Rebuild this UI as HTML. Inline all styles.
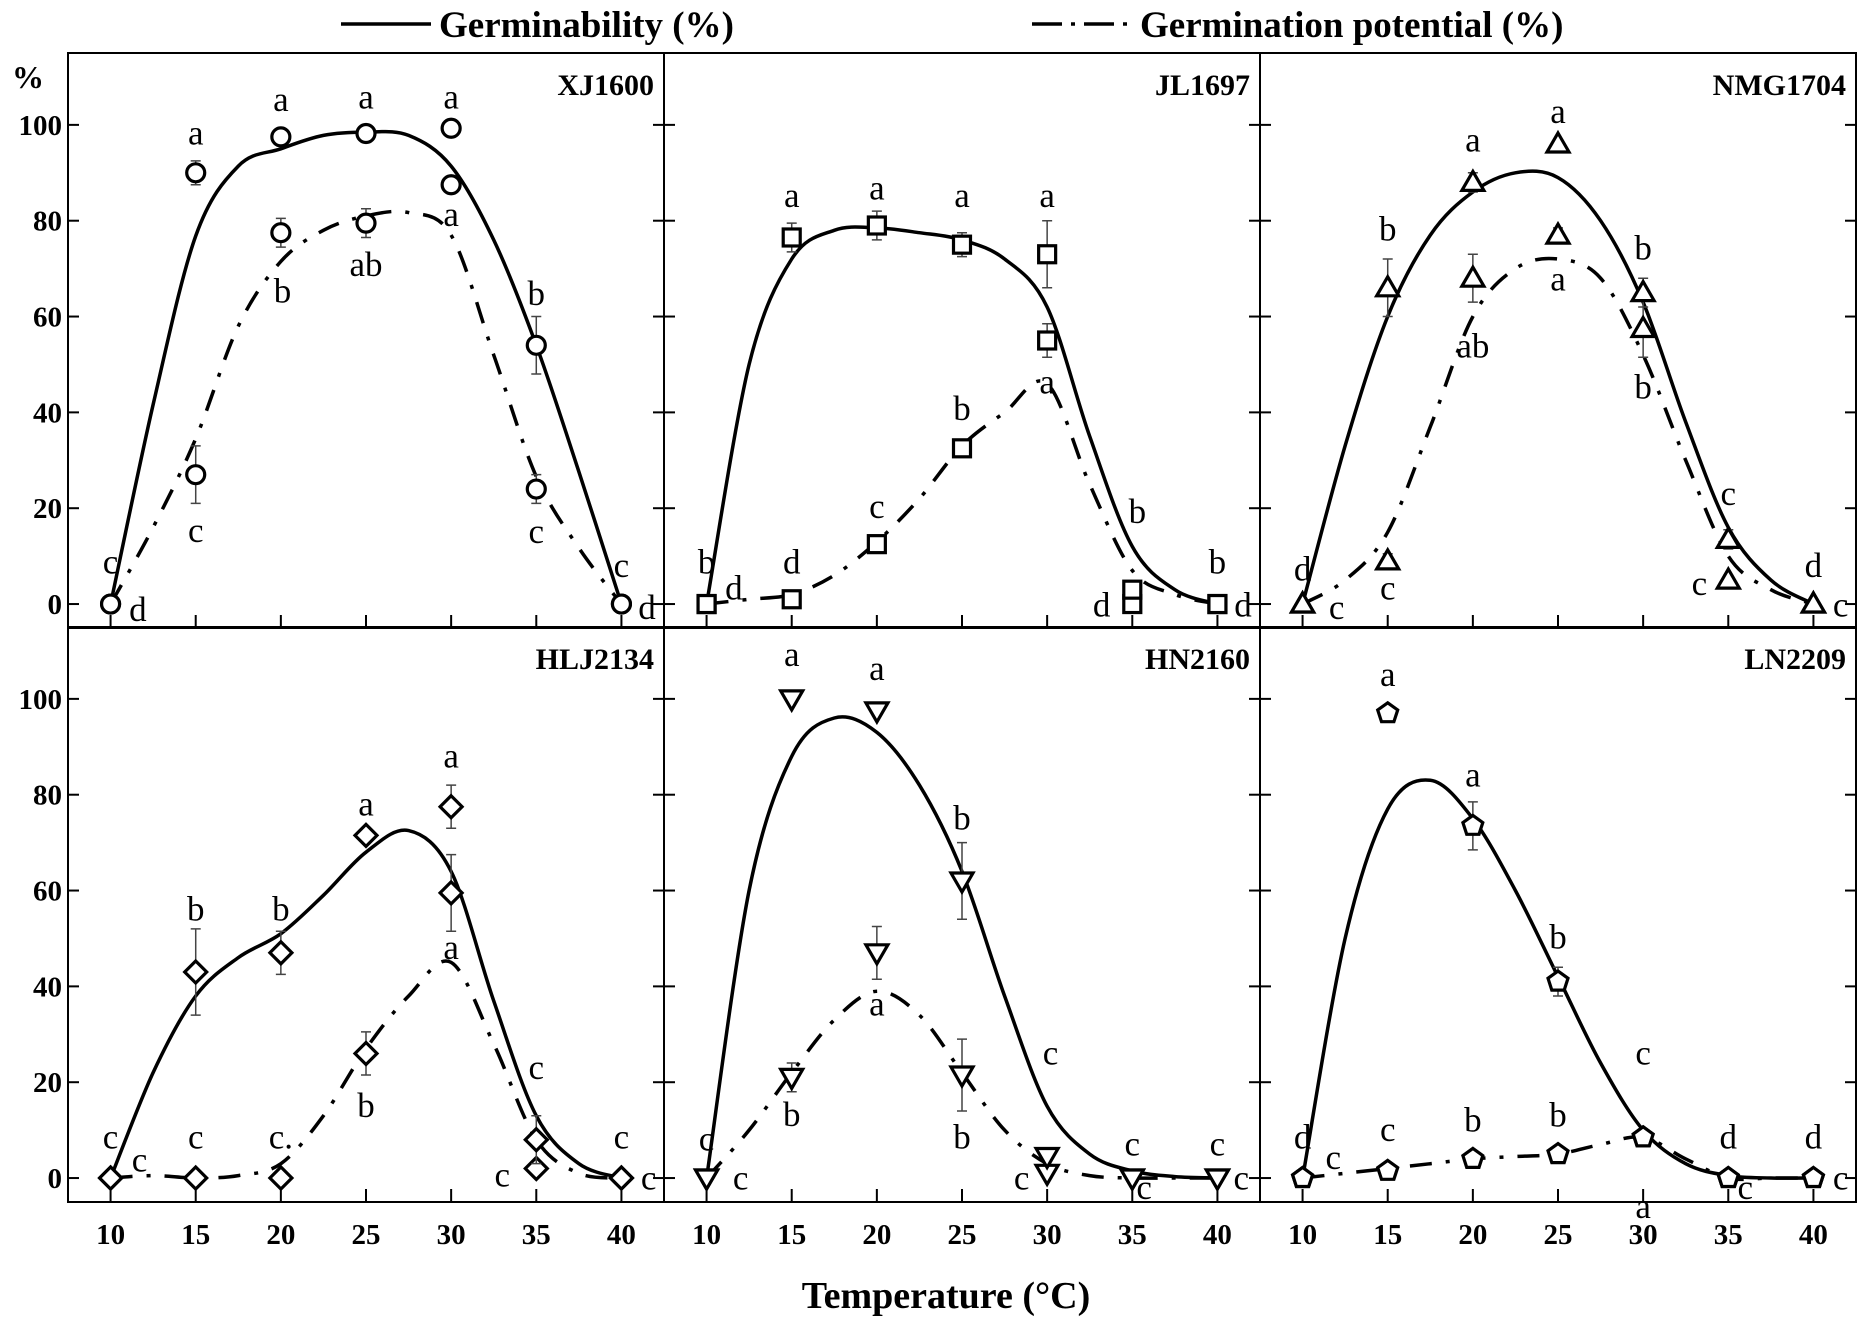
<!DOCTYPE html>
<html><head><meta charset="utf-8">
<style>
html,body{margin:0;padding:0;background:#fff;}
svg{display:block;}
text{font-family:"Liberation Serif","Times New Roman",serif;fill:#000;}
</style></head>
<body>
<svg id="chart" width="1867" height="1325" viewBox="0 0 1867 1325" xmlns="http://www.w3.org/2000/svg">
<g>
  <line x1="341" y1="24" x2="431" y2="24" stroke="#000" stroke-width="3.5"/>
  <text x="439" y="37" font-size="37" font-weight="bold">Germinability (%)</text>
  <line x1="1032" y1="24" x2="1128" y2="24" stroke="#000" stroke-width="3.5" stroke-dasharray="30 9 4 9"/>
  <text x="1140" y="37" font-size="37" font-weight="bold">Germination potential (%)</text>
</g>
<text x="946" y="1308" font-size="38" font-weight="bold" text-anchor="middle">Temperature (°C)</text>
<text x="12" y="88" font-size="32" font-weight="bold">%</text>
<g id="panels"></g>
</svg>
<script>
// ---- data ----
const temps = [10, 15, 20, 25, 30, 35, 40];
const curveTemps = [10, 12.5, 15, 17.5, 20, 22.5, 25, 27.5, 30, 32.5, 35, 37.5, 40];
const panelNames = ["XJ1600", "JL1697", "NMG1704", "HLJ2134", "HN2160", "LN2209"];
const markerShapes = ["circle", "square", "triangle-up", "diamond", "triangle-down", "pentagon"];
const yTicks = [0, 20, 40, 60, 80, 100];
const xTicks = [10, 15, 20, 25, 30, 35, 40];

const germValues = [
  [0, 90, 97.5, 98.2, 99.3, 54, 0],
  [0, 76.5, 79, 75, 73, 3, 0],
  [0, 66, 88, 96, 65, 13.5, 0],
  [0, 43, 47, 71.5, 77.5, 8, 0],
  [0, 100, 97.5, 62, 4.5, 0, 0],
  [0, 97, 73.5, 41, 8.5, 0, 0]
];
const germErr = [
  [0, 2.5, 1, 1, 0.5, 6, 0],
  [0, 3, 3, 2.5, 7, 1, 0],
  [0, 6, 2, 1, 3, 2, 0],
  [0, 9, 4.5, 1.5, 4.5, 5, 0],
  [0, 0.5, 1, 8, 1, 0, 0],
  [0, 1, 5, 3, 1.5, 0, 0]
];
const potValues = [
  [0, 27, 77.5, 79.5, 87.5, 24, 0],
  [0, 1, 12.5, 32.5, 55, 0, 0],
  [0, 9, 68, 77, 57.5, 5, 0],
  [0, 0, 0, 26, 59.5, 2, 0],
  [0, 21, 47, 21.5, 1, 0, 0],
  [0, 1.5, 4, 5, 8.5, 0, 0]
];
const potErr = [
  [0, 6, 3, 3, 1, 3, 0],
  [0, 1, 1.5, 1.5, 3.5, 1.5, 0],
  [0, 1.5, 5, 1.5, 6, 1, 0],
  [0, 0, 0, 4.5, 8, 1, 0],
  [0, 3, 5.5, 7.5, 1, 0, 0],
  [0, 1, 1, 0.5, 1, 0, 0]
];
const germCurves = [
  [0, 41.6, 76.8, 91.4, 95, 97.8, 98.5, 97.8, 91.4, 76, 54, 27.6, 0],
  [0, 50, 72, 78, 78.5, 77.5, 76, 72, 62, 35, 12, 3, 0],
  [0, 33, 60, 77, 86, 90, 89, 80, 63, 38, 16, 5, 0],
  [0, 22, 38, 46, 51, 59, 68, 72.5, 64, 37, 13, 3, 0],
  [0, 60, 88, 96, 93, 82, 64, 38, 15, 5, 1.5, 0.3, 0],
  [0, 50, 77, 83, 75, 60, 42, 24, 10, 3, 0.5, 0, 0]
];
const potCurves = [
  [0, 16, 34.5, 58, 71.5, 78, 81, 81.7, 77, 52, 26.6, 11.7, 0],
  [0, 1, 2, 6, 13, 22, 33, 40, 46, 25, 7, 2, 0],
  [0, 5, 15, 37, 60, 70, 72, 68, 52, 30, 10, 3, 0],
  [0, 0.5, 0, 0.5, 3, 13, 27, 38, 45, 28, 8, 1, 0],
  [0, 10, 22, 33, 39, 34, 22, 10, 3, 0.5, 0, 0, 0],
  [0, 1, 2, 3, 4, 4.5, 5, 7, 8.5, 4, 0, 0, 0]
];
// significance letters: [temperature, value, letter]
const letterSets = [
  [[10,8.5,"c"],[11.6,-1.5,"d"],[15,98,"a"],[15,15,"c"],[20,105,"a"],[20.1,65,"b"],[25,105.5,"a"],[25,70.5,"ab"],[30,105.5,"a"],[30,81,"a"],[35,64.5,"b"],[35,14.8,"c"],[40,7.7,"c"],[41.5,-1,"d"]],
  [[10,8.5,"b"],[11.6,3,"d"],[15,85,"a"],[15,8.5,"d"],[20,86.5,"a"],[20,20,"c"],[25,85,"a"],[25,40.5,"b"],[30,85,"a"],[30,46,"a"],[35.3,19,"b"],[33.2,-0.5,"d"],[40,8.5,"b"],[41.5,-0.5,"d"]],
  [[10,7,"d"],[12,-1,"c"],[15,78,"b"],[15,3,"c"],[20,96.5,"a"],[20,53.5,"ab"],[25,102.5,"a"],[25,67.5,"a"],[30,74,"b"],[30,45,"b"],[35,22.8,"c"],[33.3,4,"c"],[40,7.7,"d"],[41.6,-0.5,"c"]],
  [[10,8.3,"c"],[11.7,3.5,"c"],[15,55.8,"b"],[15,8.3,"c"],[20,55.8,"b"],[20,8.3,"c."],[25,77.8,"a"],[25,14.8,"b"],[30,87.8,"a"],[30,47.8,"a"],[35,22.8,"c"],[33,0.3,"c"],[40,8.3,"c"],[41.6,-0.3,"c"]],
  [[10,7.8,"c"],[12,-0.3,"c"],[15,109,"a"],[15,13,"b"],[20,106,"a"],[20,36,"a"],[25,74.8,"b"],[25,8.3,"b"],[30.2,25.8,"c"],[28.5,-0.3,"c"],[35,6.8,"c"],[35.7,-2.3,"c"],[40,6.8,"c"],[41.4,-0.3,"c"]],
  [[10,8.3,"d"],[11.8,4,"c"],[15,104.8,"a"],[15,9.8,"c"],[20,11.8,"b"],[20,83.8,"a"],[25,50,"b"],[25,12.8,"b"],[30,25.8,"c"],[30,-6.3,"a"],[35,8.3,"d"],[36,-2.3,"c"],[40,8.3,"d"],[41.6,-0.3,"c"]]
];

// ---- layout ----
const NS = "http://www.w3.org/2000/svg";
const colX = [68, 664, 1260];
const rowY = [53, 627];
const PW = 596, PH = 575;
const X0 = 7.5, X1 = 42.5, Y0 = -5, Y1 = 115;
const root = document.getElementById("panels");

function mk(tag, attrs, parent) {
  const el = document.createElementNS(NS, tag);
  for (const k in attrs) el.setAttribute(k, attrs[k]);
  parent.appendChild(el);
  return el;
}
function smoothPath(pts) {
  let d = "M" + pts[0][0].toFixed(1) + "," + pts[0][1].toFixed(1);
  for (let i = 0; i < pts.length - 1; i++) {
    const p0 = pts[Math.max(0, i - 1)], p1 = pts[i], p2 = pts[i + 1], p3 = pts[Math.min(pts.length - 1, i + 2)];
    const c1x = p1[0] + (p2[0] - p0[0]) / 6, c1y = p1[1] + (p2[1] - p0[1]) / 6;
    const c2x = p2[0] - (p3[0] - p1[0]) / 6, c2y = p2[1] - (p3[1] - p1[1]) / 6;
    d += " C" + c1x.toFixed(1) + "," + c1y.toFixed(1) + " " + c2x.toFixed(1) + "," + c2y.toFixed(1) + " " + p2[0].toFixed(1) + "," + p2[1].toFixed(1);
  }
  return d;
}
function marker(shape, cx, cy, parent) {
  const st = {fill: "#fff", stroke: "#000", "stroke-width": 3.2};
  let el;
  if (shape === "circle") el = mk("circle", Object.assign({cx, cy, r: 9}, st), parent);
  else if (shape === "square") el = mk("rect", Object.assign({x: cx - 8.5, y: cy - 8.5, width: 17, height: 17}, st), parent);
  else {
    let pts;
    if (shape === "triangle-up") pts = [[0,-11],[11,8],[-11,8]];
    else if (shape === "triangle-down") pts = [[0,11],[11,-8],[-11,-8]];
    else if (shape === "diamond") pts = [[0,-11],[11,0],[0,11],[-11,0]];
    else { pts = []; for (let k = 0; k < 5; k++) { const a = -Math.PI/2 + k*2*Math.PI/5; pts.push([10.5*Math.cos(a), 10.5*Math.sin(a)]); } }
    el = mk("polygon", Object.assign({points: pts.map(p => (cx+p[0]).toFixed(1)+","+(cy+p[1]).toFixed(1)).join(" ")}, st), parent);
  }
  return el;
}

for (let p = 0; p < 6; p++) {
  const r = Math.floor(p / 3), c = p % 3;
  const left = colX[c], top = rowY[r];
  const xs = t => left + (t - X0) / (X1 - X0) * PW;
  const ys = v => top + (Y1 - v) / (Y1 - Y0) * PH;
  const g = mk("g", {}, root);
  
  

  const frame = mk("rect", {x: left, y: top, width: PW, height: PH, fill: "none", stroke: "#000", "stroke-width": 2}, g);
  
  

  yTicks.forEach(v => {
    mk("line", {x1: left, x2: left + 11, y1: ys(v), y2: ys(v), stroke: "#000", "stroke-width": 2}, g);
    mk("line", {x1: left + PW - 11, x2: left + PW, y1: ys(v), y2: ys(v), stroke: "#000", "stroke-width": 2}, g);
    if (c === 0) {
      const t = mk("text", {x: 62, y: ys(v) + 10, "font-size": 29, "font-weight": "bold", "text-anchor": "end"}, g);
      t.textContent = v;
      
      
    }
  });
  xTicks.forEach(v => {
    mk("line", {x1: xs(v), x2: xs(v), y1: top + PH, y2: top + PH - 13, stroke: "#000", "stroke-width": 2}, g);
    if (r === 1) {
      const t = mk("text", {x: xs(v), y: 1244, "font-size": 29, "font-weight": "bold", "text-anchor": "middle"}, g);
      t.textContent = v;
      
      
    }
  });

  const nm = mk("text", {x: left + PW - 10, y: top + 42, "font-size": 30, "font-weight": "bold", "text-anchor": "end"}, g);
  nm.textContent = panelNames[p];
  
  

  const gc = mk("path", {d: smoothPath(curveTemps.map((t, i) => [xs(t), ys(germCurves[p][i])])), fill: "none", stroke: "#000", "stroke-width": 3.5}, g);
  
  
  const pc = mk("path", {d: smoothPath(curveTemps.map((t, i) => [xs(t), ys(potCurves[p][i])])), fill: "none", stroke: "#000", "stroke-width": 3.5, "stroke-dasharray": "22 14 4 14"}, g);
  
  

  [[potValues, potErr, 'potential'], [germValues, germErr, 'germinability']].forEach(([vals, errs, lab]) => {
    temps.forEach((t, i) => {
      const v = vals[p][i], e = errs[p][i];
      if (e > 0) {
        const eb = mk("path", {d: `M${xs(t)},${ys(v-e)}V${ys(v+e)}M${xs(t)-5},${ys(v-e)}h10M${xs(t)-5},${ys(v+e)}h10`, stroke: "#444", "stroke-width": 1.5, fill: "none"}, g);
        
        
      }
      const m = marker(markerShapes[p], xs(t), ys(v), g);
      
      
    });
  });

  letterSets[p].forEach(L => {
    const t = mk("text", {x: xs(L[0]), y: ys(L[1]) + 10, "font-size": 35, "text-anchor": "middle"}, g);
    t.textContent = L[2];
    
    
  });
}
</script>
</body></html>
